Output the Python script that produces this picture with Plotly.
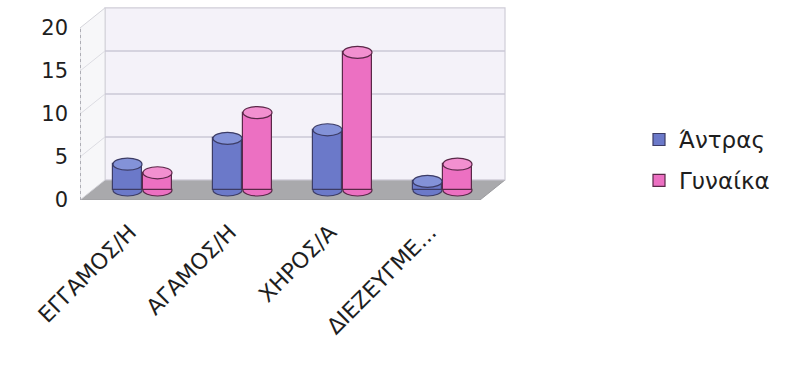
import plotly.graph_objects as go

# Marital status counts by sex
categories = ["ΕΓΓΑΜΟΣ/Η", "ΑΓΑΜΟΣ/Η", "ΧΗΡΟΣ/Α", "ΔΙΕΖΕΥΓΜΕ..."]
men = [3, 6, 7, 1]
women = [2, 9, 16, 3]
y_ticks = [0, 5, 10, 15, 20]

# Pseudo-3D geometry (axis units): depth shift of the back wall / floor
DX, DY = 0.25, 2.33
BAR_W = 0.29
CAP_H = 0.7  # half height of the cylinder caps
Y_MAX = 22.67
X_MIN, X_MAX = -0.5, 3.8
n = len(categories)

series = [
    dict(name="Άντρας", values=men, shift=-0.15,
         body="#6b79c9", cap="#8392d8", edge="#3c3c66"),
    dict(name="Γυναίκα", values=women, shift=0.15,
         body="#ec70c2", cap="#f290d0", edge="#5a2848"),
]

shapes = []
# floor
shapes.append(dict(
    type="path", layer="below", xref="x", yref="y",
    path=f"M {-0.5},0 L {n - 0.5},0 L {n - 0.5 + DX},{DY} L {-0.5 + DX},{DY} Z",
    fillcolor="#a9a9ac", line=dict(color="#9a9a9e", width=1)))
# back wall
shapes.append(dict(
    type="rect", layer="below", xref="x", yref="y",
    x0=-0.5 + DX, x1=n - 0.5 + DX, y0=DY, y1=y_ticks[-1] + DY,
    fillcolor="#f4f2f9", line=dict(color="#cfcdd8", width=1.2)))
# side wall
shapes.append(dict(
    type="path", layer="below", xref="x", yref="y",
    path=f"M -0.5,0 L {-0.5 + DX},{DY} L {-0.5 + DX},{y_ticks[-1] + DY} L -0.5,{y_ticks[-1]} Z",
    fillcolor="#f7f7f9", line=dict(color="#d4d4da", width=1)))
# gridlines on back and side walls
for t in y_ticks[1:-1]:
    shapes.append(dict(type="line", layer="below", xref="x", yref="y",
                       x0=-0.5 + DX, x1=n - 0.5 + DX, y0=t + DY, y1=t + DY,
                       line=dict(color="#cbc9d6", width=1.5)))
    shapes.append(dict(type="line", layer="below", xref="x", yref="y",
                       x0=-0.5, x1=-0.5 + DX, y0=t, y1=t + DY,
                       line=dict(color="#dcdce2", width=1)))
# front vertical axis edge
shapes.append(dict(type="line", layer="below", xref="x", yref="y",
                   x0=-0.5, x1=-0.5, y0=0, y1=y_ticks[-1],
                   line=dict(color="#9c9ca4", width=1.5, dash="dot")))

fig = go.Figure()

for k, s in enumerate(series):
    xs = [i + DX / 2 + s["shift"] for i in range(n)]
    base = DY / 2
    fig.add_trace(go.Bar(
        x=xs, y=s["values"], base=[base] * n, width=BAR_W, name=s["name"],
        legendgroup=s["name"],
        marker=dict(color=s["body"], line=dict(color=s["edge"], width=1.2)),
    ))
    for x, v in zip(xs, s["values"]):
        # rounded bottom of the cylinder
        shapes.append(dict(type="circle", layer="below", xref="x", yref="y",
                           x0=x - BAR_W / 2, x1=x + BAR_W / 2,
                           y0=base - CAP_H, y1=base + CAP_H,
                           fillcolor=s["body"], line=dict(color=s["edge"], width=1.2)))
        # top cap
        shapes.append(dict(type="circle", layer="above", xref="x", yref="y",
                           x0=x - BAR_W / 2, x1=x + BAR_W / 2,
                           y0=base + v - CAP_H, y1=base + v + CAP_H,
                           fillcolor=s["cap"], line=dict(color=s["edge"], width=1.2)))

fig.update_layout(
    width=792, height=383,
    margin=dict(l=80, r=282, t=5, b=183),
    paper_bgcolor="white", plot_bgcolor="white",
    font=dict(family="DejaVu Sans, Liberation Sans, sans-serif", size=21, color="#1e1e1e"),
    shapes=shapes,
    bargap=0, barmode="overlay",
    showlegend=True,
    legend=dict(x=1.30, y=0.205, xanchor="left", yanchor="middle",
                traceorder="grouped", tracegroupgap=8,
                font=dict(size=23), itemwidth=30, bgcolor="rgba(0,0,0,0)"),
    xaxis=dict(range=[X_MIN, X_MAX], tickmode="array",
               tickvals=list(range(n)), ticktext=categories,
               tickangle=-45, showgrid=False, zeroline=False, showline=False,
               ticks="", tickfont=dict(size=22), ticklabelstandoff=14),
    yaxis=dict(range=[0, Y_MAX], tickmode="array", tickvals=y_ticks,
               showgrid=False, zeroline=False, showline=False, ticks="",
               ticklabelstandoff=11),
)

fig.write_html("out.html")
